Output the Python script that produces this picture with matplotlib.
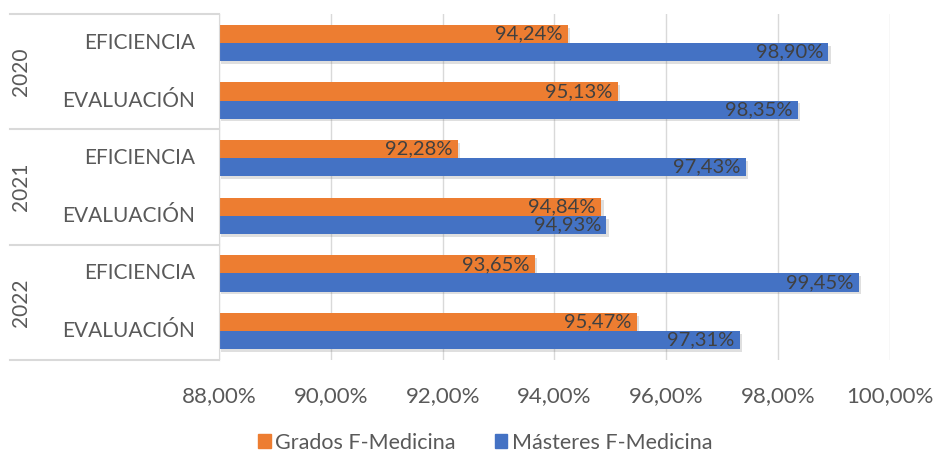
import matplotlib.pyplot as plt
import matplotlib.transforms as mtransforms
import matplotlib.patheffects as pe

plt.rcParams['font.family'] = ['Lato', 'DejaVu Sans']

years = ["2020", "2021", "2022"]
categories = ["EFICIENCIA", "EVALUACIÓN"]
grados = [94.24, 95.13, 92.28, 94.84, 93.65, 95.47]
masters = [98.90, 98.35, 97.43, 94.93, 99.45, 97.31]
xticks = [88, 90, 92, 94, 96, 98, 100]

fig = plt.figure(figsize=(9.33, 4.55), dpi=100)
ax = fig.add_axes([0.2347, 0.209, 0.7192, 0.760])

n = len(grados)
h = 0.315
shadow = [pe.SimplePatchShadow(offset=(1.5, -2), shadow_rgbFace='#808080', alpha=0.25), pe.Normal()]
for i in range(n):
    yc = i + 0.5
    b1 = ax.barh(yc - h / 2, grados[i] - 88, left=88, height=h, color='#ED7D31')
    b2 = ax.barh(yc + h / 2, masters[i] - 88, left=88, height=h, color='#4472C4')
    for b in list(b1) + list(b2):
        b.set_path_effects(shadow)
    ax.text(grados[i] - 0.1, yc - h / 2, f"{grados[i]:.2f}%".replace('.', ','),
            ha='right', va='center', fontsize=14.5, color='#404040')
    ax.text(masters[i] - 0.1, yc + h / 2, f"{masters[i]:.2f}%".replace('.', ','),
            ha='right', va='center', fontsize=14.5, color='#404040')

ax.set_xlim(88, 100)
ax.set_ylim(n, 0)
ax.set_xticks(xticks)
ax.set_xticklabels([f"{t:.2f}%".replace('.', ',') for t in xticks], fontsize=16, color='#595959')
ax.tick_params(axis='x', length=0, pad=19)
ax.set_yticks([])
ax.grid(axis='x', color='#D9D9D9', linewidth=1)
ax.set_axisbelow(True)
for s in ['top', 'right', 'bottom']:
    ax.spines[s].set_visible(False)
ax.spines['left'].set_color('#D9D9D9')

# hierarchical category labels
trans = mtransforms.blended_transform_factory(ax.transAxes, ax.transData)
for k in range(len(years) + 1):
    ax.plot([-0.311, 0], [2 * k, 2 * k], transform=trans, color='#D9D9D9', linewidth=1.5, clip_on=False)
for j, yr in enumerate(years):
    ax.text(-0.295, 2 * j + 1, yr, transform=trans, rotation=90, ha='center', va='center',
            fontsize=15, color='#595959')
    for c, cat in enumerate(categories):
        ax.text(-0.036, 2 * j + c + 0.5, cat, transform=trans, ha='right', va='center',
                fontsize=15, color='#595959')

handles = [plt.Rectangle((0, 0), 1, 1, color='#ED7D31'), plt.Rectangle((0, 0), 1, 1, color='#4472C4')]
fig.legend(handles, ["Grados F-Medicina", "Másteres F-Medicina"], loc='center', bbox_to_anchor=(0.52, 0.027),
           ncol=2, frameon=False, fontsize=15.5, handlelength=0.6, handleheight=0.6, handletextpad=0.2,
           columnspacing=1.8, labelcolor='#595959')

fig.savefig("out.png", dpi=100)
